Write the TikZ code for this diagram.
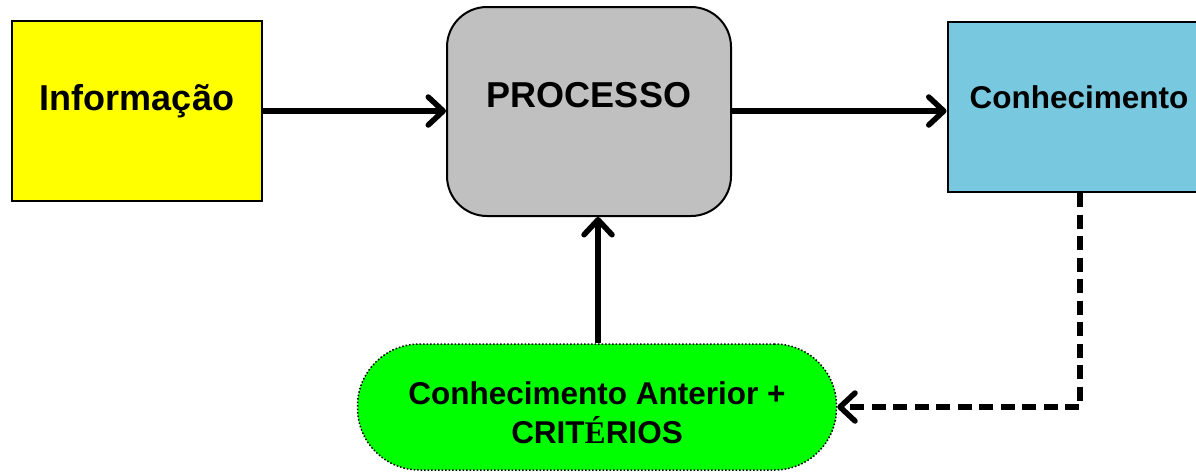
\documentclass[tikz,border=0pt]{standalone}
\usepackage{fontspec}
\setmainfont{Liberation Sans}
\newfontfamily\serifbold{Liberation Serif}
\usetikzlibrary{arrows.meta}
\definecolor{boxyellow}{HTML}{FFFF00}
\definecolor{boxgray}{HTML}{C0C0C0}
\definecolor{boxblue}{HTML}{78C9DF}
\definecolor{boxgreen}{HTML}{00FF00}
\tikzset{
  blk/.style={draw=black, line width=2pt, inner sep=0pt},
  lbl/.style={font=\bfseries, inner sep=0pt, align=center},
  arr/.style={line width=5.5pt, -{Straight Barb[length=15pt,width=28pt,line width=5.5pt,round]}},
  darr/.style={arr, dash pattern=on 14pt off 7.5pt, line cap=butt}
}
\begin{document}
\begin{tikzpicture}[x=1pt,y=-1pt]
\useasboundingbox (0,0) rectangle (1196,472);
\clip (0,0) rectangle (1196,472);
\node[blk, fill=boxyellow, minimum width=250pt, minimum height=180pt] (info) at (137,111) {};
\node[lbl, font=\fontsize{36}{40}\selectfont\bfseries] (infotxt) at (137,101) {Informação};
\node[blk, fill=boxgray, rounded corners=40pt, minimum width=284pt, minimum height=209pt] (proc) at (589,111.5) {};
\node[lbl, font=\fontsize{36}{40}\selectfont\bfseries] (proctxt) at (589,95) {PROCESSO};
\node[blk, fill=boxblue, minimum width=265pt, minimum height=170pt] (know) at (1080,107) {};
\node[lbl, font=\fontsize{31.5}{36}\selectfont\bfseries] (knowtxt) at (1079,97) {Conhecimento};
\node[draw=black, dotted, line width=1.5pt, fill=boxgreen, rounded corners=62pt, minimum width=479pt, minimum height=126pt, inner sep=0pt] (prior) at (597,407) {};
\node[lbl, font=\fontsize{31.5}{39}\selectfont\bfseries] (priortxt) at (597,413) {Conhecimento Anterior +\\CRIT{\serifbold\bfseries É}RIOS};
\draw[arr] (info.east) -- (proc.west |- info.east);
\draw[arr] (proc.east |- 0,111) -- (know.west |- 0,111);
\draw[arr] (prior.north -| 598,0) -- (proc.south -| 598,0);
\draw[darr] (know.south) |- (prior.east);
\end{tikzpicture}
\end{document}
